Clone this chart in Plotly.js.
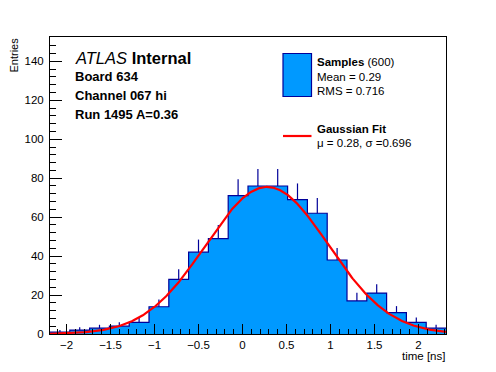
<!DOCTYPE html>
<html>
<head>
<meta charset="utf-8">
<script src="https://cdn.plot.ly/plotly-3.0.1.min.js"></script>
<style>html,body{margin:0;padding:0;background:#fff;}#plot{width:496px;height:372px;}</style>
</head>
<body>
<div id="plot"></div>
<script>
// ---- data ----
const binStart = -2.1875;
const binWidth = 0.225;
const counts = [1, 2, 3, 4, 6, 14, 28, 42, 49, 71, 76, 76, 69, 62, 38, 17, 21, 11, 6, 3];
const fitMu = 0.28;
const fitSigma = 0.696;
const fitAmp = 75.5;
const xTickVals = [-2, -1.5, -1, -0.5, 0, 0.5, 1, 1.5, 2];
const yTickVals = [0, 20, 40, 60, 80, 100, 120, 140];
const infoLines = ["Board 634", "Channel 067 hi", "Run 1495 A=0.36"];

// ---- derived ----
const nb = counts.length;
const xMax = binStart + nb * binWidth;
const stepX = [], stepY = [];
for (let i = 0; i < nb; i++) { stepX.push(binStart + i * binWidth); stepY.push(counts[i]); }
stepX.push(xMax); stepY.push(counts[nb - 1]);
const centers = counts.map((c, i) => binStart + (i + 0.5) * binWidth);
const errUp = counts.map(c => Math.sqrt(c));
const fx = [], fy = [];
for (let x = binStart; x <= xMax + 1e-9; x += 0.01) {
  fx.push(x);
  fy.push(fitAmp * Math.exp(-0.5 * Math.pow((x - fitMu) / fitSigma, 2)));
}

const FILL = '#0099ff', EDGE = '#000099', RED = '#ff0000';
const FONT = 'Liberation Sans, Arial, Helvetica, sans-serif';

// pixel -> paper helpers (plot area: x 50..446, y 37..334)
const L = 50, R = 446, T = 37, B = 334;
const px = x => (x - L) / (R - L);
const py = y => (B - y) / (B - T);

function ann(text, x, y, size, opts) {
  return Object.assign({
    text: text, xref: 'paper', yref: 'paper', x: px(x), y: py(y),
    xanchor: 'left', yanchor: 'middle', showarrow: false, borderpad: 0,
    font: {family: FONT, size: size, color: '#000'}
  }, opts || {});
}

const traces = [
  {x: stepX, y: stepY, type: 'scatter', mode: 'lines', line: {shape: 'hv', color: EDGE, width: 1.2},
   fill: 'tozeroy', fillcolor: FILL, hoverinfo: 'skip', showlegend: false},
  {x: centers, y: counts, type: 'scatter', mode: 'markers', marker: {size: 1, opacity: 0},
   error_y: {type: 'data', symmetric: false, array: errUp, arrayminus: counts.map(() => 0),
             width: 0, thickness: 1.2, color: EDGE}, showlegend: false, hoverinfo: 'skip'},
  {x: fx, y: fy, type: 'scatter', mode: 'lines', line: {color: RED, width: 2.2}, showlegend: false, hoverinfo: 'skip'}
];

const annotations = [
  ann('<i>ATLAS</i> <b>Internal</b>', 74, 58.5, 16.5),
  ann('<b>' + infoLines[0] + '</b>', 74, 76.5, 13),
  ann('<b>' + infoLines[1] + '</b>', 74, 95.5, 13),
  ann('<b>' + infoLines[2] + '</b>', 74, 114.5, 13),
  ann('<b>Samples</b> (600)', 316, 62, 11.5),
  ann('Mean = 0.29', 316, 76.5, 11.5),
  ann('RMS = 0.716', 316, 90.5, 11.5),
  ann('<b>Gaussian Fit</b>', 316, 129, 11.5),
  ann('\u03bc = 0.28, \u03c3 =0.696', 316, 142.5, 11.5),
  ann('time [ns]', 446, 356, 11.5, {xanchor: 'right'}),
  ann('Entries', 13, 37, 11, {textangle: -90, xanchor: 'center', yanchor: 'top'})
];

const shapes = [
  {type: 'rect', xref: 'paper', yref: 'paper', x0: px(283), x1: px(311.5), y0: py(96.5), y1: py(53.5),
   fillcolor: FILL, line: {color: EDGE, width: 1.2}},
  {type: 'line', xref: 'paper', yref: 'paper', x0: px(283), x1: px(311.5), y0: py(136), y1: py(136),
   line: {color: RED, width: 2.2}}
];

const layout = {
  width: 496, height: 372,
  margin: {l: L, r: 496 - R, t: T, b: 372 - B, pad: 0},
  paper_bgcolor: '#fff', plot_bgcolor: '#fff',
  showlegend: false,
  font: {family: FONT, size: 11.5, color: '#000'},
  xaxis: {range: [binStart, xMax], tickmode: 'array', tickvals: xTickVals,
          ticks: 'inside', ticklen: 10, tickwidth: 1, tickcolor: '#000',
          showgrid: false, zeroline: false, showline: true, linecolor: '#000', linewidth: 1, mirror: true,
          tickfont: {size: 11.5}, ticklabelstandoff: 0,
          minor: {ticks: 'inside', ticklen: 5, dtick: 0.1, tickcolor: '#000', tickwidth: 1, showgrid: false}},
  yaxis: {range: [0, 152.5], tickmode: 'array', tickvals: yTickVals,
          ticks: 'inside', ticklen: 12, tickwidth: 1, tickcolor: '#000',
          showgrid: false, zeroline: false, showline: true, linecolor: '#000', linewidth: 1, mirror: true,
          tickfont: {size: 11.5}, ticklabelstandoff: 3,
          minor: {ticks: 'inside', ticklen: 6, dtick: 4, tickcolor: '#000', tickwidth: 1, showgrid: false}},
  annotations: annotations,
  shapes: shapes
};

Plotly.newPlot('plot', traces, layout, {staticPlot: true, displayModeBar: false});
</script>
</body>
</html>
